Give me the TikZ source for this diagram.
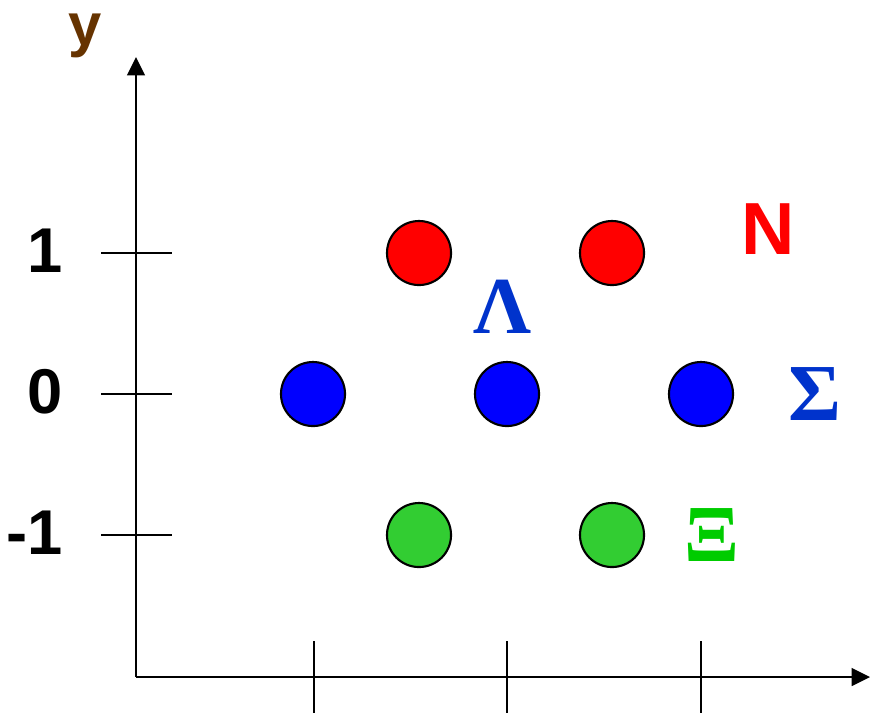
\documentclass[tikz,border=0pt]{standalone}
\usepackage{fontspec}
\setsansfont{Liberation Sans}
\newfontfamily\greekfont{Liberation Serif}
\usetikzlibrary{
    arrows.meta,
    positioning
}
\definecolor{labelbrown}{RGB}{102,51,0}
\definecolor{greekblue}{RGB}{0,51,204}
\definecolor{xigreen}{RGB}{0,204,0}
\definecolor{ballgreen}{RGB}{50,205,50}

\begin{document}
\begin{tikzpicture}[
    x=0.01cm, y=-0.01cm,
    axis/.style={line width=0.7pt, -{Triangle[length=5.2pt,width=5pt]}},
    tickline/.style={line width=0.6pt},
    ball/.style={circle, draw=black, line width=0.6pt, minimum size=0.64cm, inner sep=0pt},
    ticklabel/.style={anchor=east, inner sep=0pt, font=\sffamily\bfseries\fontsize{18pt}{20pt}\selectfont},
    multiplet/.style={font=\greekfont\bfseries\fontsize{23pt}{26pt}\selectfont}
]
\useasboundingbox (0,0) rectangle (871,714);

% axes
\coordinate (org) at (136,677);
\coordinate (ytip) at (136,57);
\coordinate (xtip) at (870,677);
\draw[axis] (org) -- (ytip);
\draw[axis] (org) -- (xtip);
\node[anchor=base, inner sep=0pt, text=labelbrown, font=\sffamily\bfseries\fontsize{17pt}{18pt}\selectfont] (ylab) at (85,45) {y};

% ticks on y
\foreach \yy/\lab/\nm in {253/1/one, 394/0/zero, 535/-1/mone} {
    \coordinate (\nm-l) at (101,\yy);
    \coordinate (\nm-r) at (172,\yy);
    \draw[tickline] (\nm-l) -- (\nm-r);
    \node[ticklabel] (lab-\nm) at (63,\yy-2) {\lab};
}
% ticks on x
\foreach \xx/\nm in {314/a, 507/b, 701/c} {
    \coordinate (\nm-t) at (\xx,641);
    \coordinate (\nm-b) at (\xx,713);
    \draw[tickline] (\nm-t) -- (\nm-b);
}

% baryon octet
\node[ball, fill=red] (n1) at (419,253) {};
\node[ball, fill=red] (n2) at (612,253) {};
\node[ball, fill=blue] (s1) at (313,394) {};
\node[ball, fill=blue] (s0) at (507,394) {};
\node[ball, fill=blue] (s2) at (701,394) {};
\node[ball, fill=ballgreen] (x1) at (419,535) {};
\node[ball, fill=ballgreen] (x2) at (612,535) {};

\node[text=red, font=\sffamily\bfseries\fontsize{21pt}{24pt}\selectfont] (lab-n) at (768,229) {N};
\node[multiplet, text=greekblue] (lab-l) at (502,307) {Λ};
\node[multiplet, text=greekblue] (lab-s) at (815,394) {Σ};
\node[multiplet, text=xigreen] (lab-x) at (712,535) {Ξ};

\end{tikzpicture}
\end{document}
